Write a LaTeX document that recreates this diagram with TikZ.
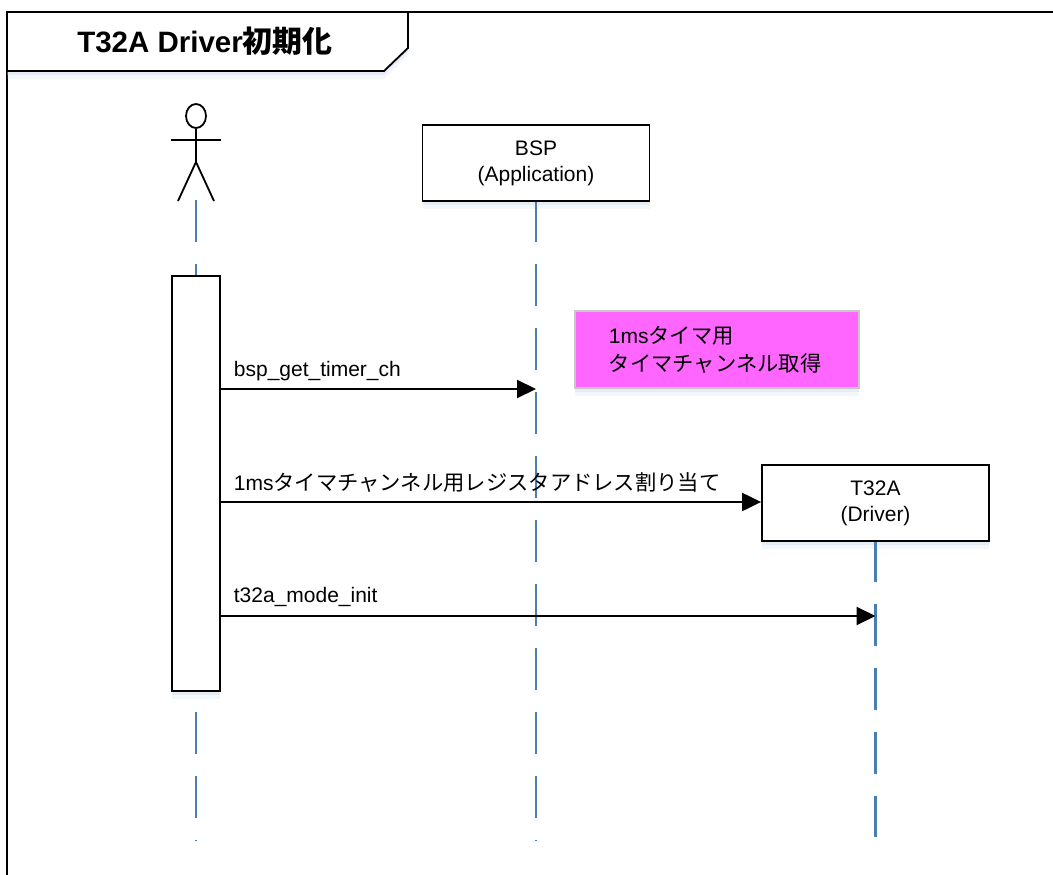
\documentclass[tikz,border=0pt]{standalone}
\usepackage{fontspec}
\setmainfont{Liberation Sans}
\newfontfamily\cjk[Scale=1.015]{Noto Sans CJK JP}
\usetikzlibrary{positioning, shapes.geometric, arrows.meta, shadows}
\newcommand{\jp}[1]{{\cjk #1}}
\definecolor{lifeblue}{HTML}{4A7EB0}
\definecolor{notepink}{HTML}{FF66FF}
\definecolor{notegray}{HTML}{C8C8C8}

\begin{document}
\begin{tikzpicture}[
    x=1pt, y=-1pt,
    line width=1.8pt,
    % Styles
    softshadow/.style={ % Pale blue shadow below the boxes
        drop shadow={shadow xshift=0pt, shadow yshift=-8pt, fill=lifeblue!40, opacity=0.15},
        drop shadow={shadow xshift=0pt, shadow yshift=-4pt, fill=lifeblue!40, opacity=0.25}
    },
    head/.style={ % Box at the top of a lifeline
        rectangle,
        draw,
        fill=white,
        softshadow,
        minimum width=227pt,
        minimum height=76pt,
        align=center,
        font=\fontsize{21}{26}\selectfont
    },
    lifeline/.style={
        lifeblue,
        line width=2.4pt,
        dash pattern=on 42pt off 22pt
    },
    msg/.style={
        -{Triangle[length=19pt, width=18pt]},
        line width=2.2pt
    },
    msglabel/.style={
        anchor=base west,
        inner sep=0pt,
        font=\fontsize{21}{24}\selectfont
    }
]
    \useasboundingbox (0,0) rectangle (1053,875);

    % Frame and title
    \draw (7,875) -- (7,12) -- (1053,12);
    \path[draw, fill=white, softshadow] (7,12) -- (408,12) -- (408,48) -- (384,71) -- (7,71) -- cycle;
    \node[inner sep=0pt, font=\fontsize{29.5}{32}\selectfont\bfseries] (title) at (205,41) {T32A Driver\jp{初期化}};

    % Actor
    \node[ellipse, draw, minimum width=20pt, minimum height=24pt, inner sep=0pt] (actor) at (196,116) {};
    \coordinate (hip) at (196,162);
    \coordinate (lefthand) at (171,140);
    \coordinate (righthand) at (221,140);
    \coordinate (leftfoot) at (178,201);
    \coordinate (rightfoot) at (214,201);
    \draw (actor.south) -- (hip);
    \draw (lefthand) -- (righthand);
    \draw (leftfoot) -- (hip) -- (rightfoot);

    % Lifeline heads
    \node[head] (bsp) at (536,163) {BSP\\(Application)};
    \node[head] (t32a) at (875.5,503) {T32A\\(Driver)};
    \coordinate (actortop) at (196,200);
    \coordinate (actorend) at (196,841);
    \coordinate (bspend) at (bsp |- actorend);
    \coordinate (t32aend) at (t32a |- 0,837);

    % Lifelines
    \draw[lifeline] (actortop) -- (actorend);
    \draw[lifeline, dash phase=2pt] (bsp.south) -- (bspend);
    \draw[lifeline, dash phase=2pt] (t32a.south) -- (t32aend);

    % Activation bar and note
    \node[rectangle, draw, fill=white, softshadow, minimum width=48pt, minimum height=415pt, inner sep=0pt] (bar) at (196,483.5) {};
    \node[rectangle, draw=notegray, fill=notepink, softshadow, minimum width=284pt, minimum height=77pt,
        right=38pt of bsp.center, yshift=-186.5pt] (note) {};
    \node[anchor=west, inner sep=0pt, align=left, font=\fontsize{21}{28}\selectfont] (notetext) at (608,349.5)
        {1ms\jp{タイマ用}\\\jp{タイマチャンネル取得}};

    % Messages
    \coordinate (getch) at (0,389);
    \coordinate (assign) at (0,502);
    \coordinate (modeinit) at (0,616);
    \draw[msg] ([xshift=-2pt]bar.east |- getch) -- (bsp |- getch);
    \draw[msg] (bar.east |- assign) -- (t32a.west |- assign);
    \draw[msg] (bar.east |- modeinit) -- (t32a |- modeinit);
    \node[msglabel] (getchlabel) at (233,376) {bsp\_get\_timer\_ch};
    \node[msglabel] (assignlabel) at (233,490) {1ms\jp{タイマチャンネル用レジスタアドレス割り当て}};
    \node[msglabel] (modeinitlabel) at (233,602) {t32a\_mode\_init};
\end{tikzpicture}
\end{document}
